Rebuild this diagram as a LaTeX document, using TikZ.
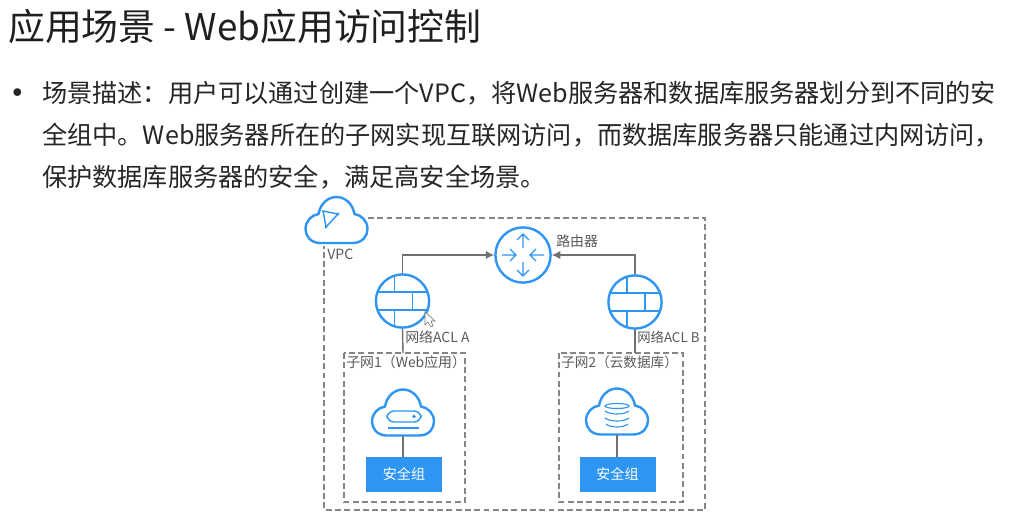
\documentclass[tikz,border=0pt]{standalone}
\usepackage{fontspec}
\setmainfont{Noto Sans CJK SC}
\usetikzlibrary{arrows.meta, positioning}

\definecolor{iconblue}{HTML}{2F95F2}
\definecolor{linegray}{HTML}{707070}
\definecolor{dashgray}{HTML}{858585}
\definecolor{labelgray}{HTML}{5A5A5A}

\tikzset{
    titletext/.style={anchor=base west, inner sep=0pt, font=\fontsize{26.2}{26.2}\selectfont, text=black!88},
    bodytext/.style={anchor=base west, inner sep=0pt, font=\fontsize{17.9}{17.9}\selectfont, text=black!85},
    label/.style={anchor=base west, inner sep=0pt, font=\fontsize{9.9}{9.9}\selectfont, text=labelgray},
    ring/.style={circle, draw=iconblue, line width=1.7pt, fill=white, inner sep=0pt, minimum size=1.33cm},
    groupbox/.style={rectangle, fill=iconblue, text=white, inner sep=0pt, minimum width=1.9cm, minimum height=0.875cm, font=\fontsize{10}{10}\selectfont},
    region/.style={draw=dashgray, line width=0.9pt, dash pattern=on 4.2pt off 2.4pt},
    arrow/.style={-{Latex[length=6pt,width=6pt]}, draw=linegray, line width=1pt},
    link/.style={draw=linegray, line width=1pt},
    thinblue/.style={draw=iconblue, line width=0.8pt},
    cloudicon/.pic={
        \draw[draw=iconblue, line width=1.7pt, fill=white] (-16,23)
            -- (16,23) .. controls (26,23) and (31,16) .. (31,9)
            .. controls (31,1) and (25,-5) .. (18,-6)
            .. controls (16,-17) and (8,-23) .. (0,-23)
            .. controls (-8,-23) and (-16,-17) .. (-18,-6)
            .. controls (-25,-5) and (-31,1) .. (-31,9)
            .. controls (-31,16) and (-26,23) .. (-16,23) -- cycle;
        \coordinate (-s) at (0,23);
    },
    bricks/.pic={
        \draw[thinblue, line width=1pt] (-25.5,-9) -- (25.5,-9);
        \draw[thinblue, line width=1pt] (-25.5,9) -- (25.5,9);
        \draw[thinblue, line width=1pt] (-8,-25.5) -- (-8,-9);
        \draw[thinblue, line width=1pt] (-8,9) -- (-8,25.5);
        \draw[thinblue, line width=1pt] (10,-9) -- (10,9);
    }
}

\begin{document}
\begin{tikzpicture}[x=0.025cm, y=-0.025cm]

% Background
\fill[white] (0,0) rectangle (1016,514);
\useasboundingbox (0,0) rectangle (1016,514);

% Heading and text
\node[titletext] (title) at (8,40) {应用场景 - Web应用访问控制};
\node[bodytext, anchor=base, font=\fontsize{26}{26}\selectfont] (bullet) at (18,106) {•};
\node[bodytext] (lineone) at (42,102) {场景描述：用户可以通过创建一个VPC，将Web服务器和数据库服务器划分到不同的安};
\node[bodytext] (linetwo) at (42,144) {全组中。Web服务器所在的子网实现互联网访问，而数据库服务器只能通过内网访问，};
\node[bodytext] (linethree) at (42,186) {保护数据库服务器的安全，满足高安全场景。};

% VPC frame
\coordinate (vpcstart) at (368,218);
\coordinate (vpcend) at (324,246);
\draw[region] (vpcstart) -- (705,218) -- (705,510) -- (324,510) -- (vpcend);
\pic (vpc) at (336.5,220) {cloudicon};
\draw[thinblue, line width=1pt] (323,211) -- (338,214) -- (326,227) -- cycle;
\fill[iconblue] (338,214) circle (1.7) (326,227) circle (1.7);
\node[label, font=\fontsize{10}{10}\selectfont] (vpclabel) at (327,259) {VPC};

% Subnets
\draw[region] (344,353) rectangle (465,502);
\draw[region] (559,353) rectangle (683,502);
\coordinate (subnetA) at (403,353);
\coordinate (subnetB) at (635,353);
\node[label] (subnetAlabel) at (346,367) {子网1（Web应用）};
\node[label, font=\fontsize{9.7}{9.7}\selectfont] (subnetBlabel) at (561,367) {子网2（云数据库）};

% Router
\node[ring, minimum size=1.38cm] (router) at (523,255) {};
\draw[thinblue] (523,248) -- (523,234) (517,240) -- (523,234) -- (529,240);
\draw[thinblue] (523,262) -- (523,276) (517,270) -- (523,276) -- (529,270);
\draw[thinblue] (502,255) -- (516,255) (510,249) -- (516,255) -- (510,261);
\draw[thinblue] (544,255) -- (530,255) (536,249) -- (530,255) -- (536,261);
\node[label] (routerlabel) at (556,246) {路由器};

% Network ACLs
\node[ring] (fwA) at (402.5,301) {};
\pic at (fwA) {bricks};
\node[label] (fwAlabel) at (405,342) {网络ACL A};
\node[ring] (fwB) at (635,302) {};
\pic at (fwB) {bricks};
\node[label, font=\fontsize{9.5}{9.5}\selectfont] (fwBlabel) at (637,342) {网络ACL B};

% Cursor
\draw[fill=white, draw=linegray, line width=0.4pt] (425,312) -- (425,325) -- (428,322) -- (431,327) -- (433,326) -- (431,321) -- (435,321) -- cycle;

% Web cloud
\pic (webcloud) at (403,412.5) {cloudicon};
\draw[thinblue, line width=1pt, rounded corners=5pt] (387,411) rectangle (421,422);
\fill[iconblue] (414,416.5) circle (1.8);
\draw[thinblue] (388,428) -- (419,428);
\node[groupbox] (webgroup) at (404,474.5) {安全组};

% Database cloud
\pic (dbcloud) at (617,411.5) {cloudicon};
\draw[thinblue] (617,406) ellipse [x radius=12, y radius=2.5];
\draw[thinblue] (605,411) .. controls (610,415) and (624,415) .. (629,411);
\draw[thinblue] (605,418) .. controls (610,422) and (624,422) .. (629,418);
\draw[thinblue] (606,424) .. controls (611,428) and (623,428) .. (628,424);
\node[groupbox] (dbgroup) at (617.5,474.5) {安全组};

% Connections
\draw[arrow] (fwA.north) |- (router.west);
\draw[arrow] (fwB.north) |- (router.east);
\draw[link] (fwA.south) -- (subnetA);
\draw[link] (fwB.south) -- (subnetB);
\draw[link] (webcloud-s) -- (webgroup.north -| webcloud-s);
\draw[link] (dbcloud-s) -- (dbgroup.north -| dbcloud-s);

\end{tikzpicture}
\end{document}
